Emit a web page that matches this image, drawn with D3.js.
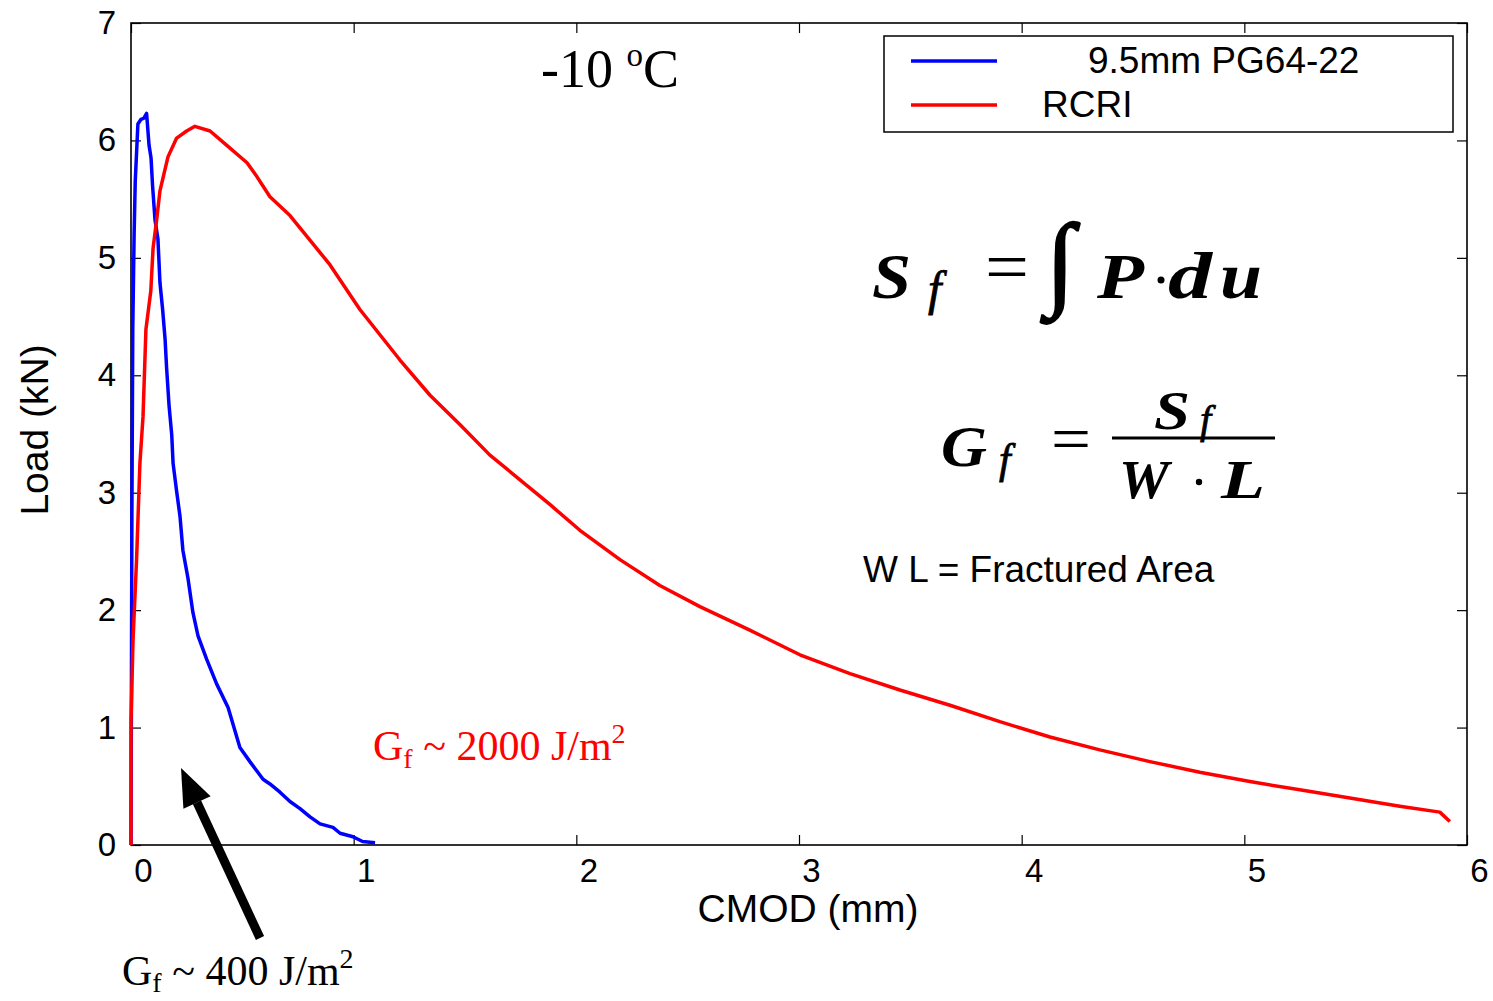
<!DOCTYPE html>
<html>
<head>
<meta charset="utf-8">
<script src="https://cdn.jsdelivr.net/npm/d3@7"></script>
<style>
  html, body { margin: 0; padding: 0; background: #fff; }
  svg { display: block; }
  .sans { font-family: "Liberation Sans", Arial, sans-serif; }
  .serif { font-family: "Liberation Serif", "Times New Roman", serif; }
</style>
</head>
<body>
<script>
// ---- data ----
const xTickValues = [0, 1, 2, 3, 4, 5, 6];
const yTickValues = [0, 1, 2, 3, 4, 5, 6, 7];
const seriesNames = ["9.5mm PG64-22", "RCRI"];
const seriesColors = ["#0000ff", "#ff0000"];

// 9.5mm PG64-22 (blue): CMOD (mm), Load (kN)
const blueCMOD = [0.000, 0.002, 0.004, 0.008, 0.014, 0.019, 0.031, 0.045, 0.058, 0.070, 0.081, 0.090, 0.097, 0.108, 0.121, 0.130, 0.142, 0.153, 0.160, 0.171, 0.183, 0.189, 0.205, 0.220, 0.233, 0.256, 0.278, 0.301, 0.340, 0.385, 0.436, 0.489, 0.534, 0.593, 0.624, 0.669, 0.714, 0.759, 0.804, 0.849, 0.907, 0.939, 0.997, 1.040, 1.096];
const blueLoad = [0.00, 1.40, 2.80, 4.40, 5.20, 5.65, 6.14, 6.18, 6.19, 6.23, 5.96, 5.85, 5.61, 5.32, 5.16, 4.79, 4.56, 4.31, 4.06, 3.74, 3.49, 3.25, 3.01, 2.80, 2.51, 2.27, 1.98, 1.78, 1.58, 1.37, 1.17, 0.83, 0.71, 0.56, 0.52, 0.45, 0.37, 0.31, 0.24, 0.18, 0.15, 0.10, 0.07, 0.03, 0.02];

// RCRI (red)
const redCMOD = [0.000, 0.000, 0.009, 0.025, 0.040, 0.054, 0.067, 0.089, 0.099, 0.115, 0.130, 0.166, 0.205, 0.250, 0.287, 0.355, 0.429, 0.521, 0.566, 0.624, 0.714, 0.894, 1.028, 1.208, 1.343, 1.477, 1.612, 1.747, 1.881, 2.016, 2.196, 2.375, 2.555, 2.779, 3.004, 3.229, 3.453, 3.678, 3.902, 4.127, 4.351, 4.576, 4.800, 5.025, 5.249, 5.474, 5.698, 5.878, 5.923];
const redLoad = [0.00, 1.05, 1.74, 2.43, 3.25, 3.65, 4.39, 4.72, 5.08, 5.32, 5.57, 5.86, 6.02, 6.08, 6.12, 6.08, 5.96, 5.81, 5.69, 5.52, 5.36, 4.94, 4.56, 4.13, 3.83, 3.58, 3.32, 3.11, 2.90, 2.68, 2.43, 2.21, 2.03, 1.83, 1.62, 1.46, 1.32, 1.19, 1.05, 0.92, 0.81, 0.71, 0.62, 0.54, 0.47, 0.40, 0.33, 0.28, 0.20];

// ---- layout ----
const W = 1493, H = 1001;
const plot = { left: 131, right: 1467, top: 23, bottom: 845 };

const svg = d3.select("body").append("svg").attr("width", W).attr("height", H);

const x = d3.scaleLinear().domain([0, 6]).range([plot.left, plot.right]);
const y = d3.scaleLinear().domain([0, 7]).range([plot.bottom, plot.top]);

// axes
const tickFont = "33px";
const gB = svg.append("g").attr("transform", `translate(0,${plot.bottom})`)
  .call(d3.axisBottom(x).tickValues(xTickValues).tickFormat(d3.format("d")).tickSizeInner(-10).tickSizeOuter(0).tickPadding(14));
gB.selectAll("text").attr("class", "sans").style("font-size", tickFont).attr("fill", "#000").attr("dx", 12);
const gL = svg.append("g").attr("transform", `translate(${plot.left},0)`)
  .call(d3.axisLeft(y).tickValues(yTickValues).tickFormat(d3.format("d")).tickSizeInner(-10).tickSizeOuter(0).tickPadding(15));
gL.selectAll("text").attr("class", "sans").style("font-size", tickFont).attr("fill", "#000");
const gT = svg.append("g").attr("transform", `translate(0,${plot.top})`)
  .call(d3.axisTop(x).tickValues(xTickValues).tickFormat("").tickSizeInner(-10).tickSizeOuter(0));
const gR = svg.append("g").attr("transform", `translate(${plot.right},0)`)
  .call(d3.axisRight(y).tickValues(yTickValues).tickFormat("").tickSizeInner(-10).tickSizeOuter(0));
svg.selectAll(".domain").remove();
svg.selectAll(".tick line").attr("stroke", "#000").attr("stroke-width", 1.2);
svg.append("rect").attr("x", plot.left).attr("y", plot.top)
  .attr("width", plot.right - plot.left).attr("height", plot.bottom - plot.top)
  .attr("fill", "none").attr("stroke", "#000").attr("stroke-width", 1.6);

// axis titles
svg.append("text").attr("class", "sans").attr("x", 808).attr("y", 922)
  .attr("text-anchor", "middle").style("font-size", "39px").text("CMOD (mm)");
svg.append("text").attr("class", "sans")
  .attr("transform", "translate(48,430) rotate(-90)")
  .attr("text-anchor", "middle").style("font-size", "39px").text("Load (kN)");

// curves
const line = d3.line().x(d => x(d[0])).y(d => y(d[1]));
const blueData = blueCMOD.map((v, i) => [v, blueLoad[i]]);
const redData = redCMOD.map((v, i) => [v, redLoad[i]]);
svg.append("path").datum(blueData).attr("d", line).attr("fill", "none")
  .attr("stroke", seriesColors[0]).attr("stroke-width", 3.5).attr("stroke-linejoin", "round");
svg.append("path").datum(redData).attr("d", line).attr("fill", "none")
  .attr("stroke", seriesColors[1]).attr("stroke-width", 3.5).attr("stroke-linejoin", "round");

// legend
const lg = svg.append("g");
lg.append("rect").attr("x", 884).attr("y", 36).attr("width", 569).attr("height", 96)
  .attr("fill", "#fff").attr("stroke", "#000").attr("stroke-width", 1.5);
lg.append("line").attr("x1", 911).attr("x2", 997).attr("y1", 61).attr("y2", 61)
  .attr("stroke", seriesColors[0]).attr("stroke-width", 3.5);
lg.append("line").attr("x1", 911).attr("x2", 997).attr("y1", 105).attr("y2", 105)
  .attr("stroke", seriesColors[1]).attr("stroke-width", 3.5);
lg.append("text").attr("class", "sans").attr("x", 1088).attr("y", 73).style("font-size", "37px").text(seriesNames[0]);
lg.append("text").attr("class", "sans").attr("x", 1042).attr("y", 117).style("font-size", "37px").text(seriesNames[1]);

// temperature title
const tt = svg.append("text").attr("class", "serif").attr("x", 541).attr("y", 87).style("font-size", "54px");
tt.append("tspan").text("-10 ");
tt.append("tspan").attr("dy", -21).style("font-size", "33px").text("o");
tt.append("tspan").attr("dy", 21).text("C");

// formulas
const bi = (txt, xx, yy, size, len) => {
  const t = svg.append("text").attr("class", "serif")
    .attr("x", xx).attr("y", yy).style("font-size", size + "px")
    .style("font-weight", "bold").style("font-style", "italic").text(txt);
  if (len) t.attr("textLength", len).attr("lengthAdjust", "spacingAndGlyphs");
  return t;
};
const it = (txt, xx, yy, size) => svg.append("text").attr("class", "serif")
  .attr("x", xx).attr("y", yy).style("font-size", size + "px")
  .style("font-style", "italic").attr("stroke", "#000").attr("stroke-width", 0.8).text(txt);
const rg = (txt, xx, yy, size) => svg.append("text").attr("class", "serif")
  .attr("x", xx).attr("y", yy).style("font-size", size + "px").text(txt);

bi("S", 872, 298, 64, 39);
it("f", 928, 305, 48);
rg("=", 985, 291, 72).attr("textLength", 44).attr("lengthAdjust", "spacingAndGlyphs");
rg("\u222B", 1046, 296, 104).attr("stroke", "#000").attr("stroke-width", 2);
bi("P", 1097, 298, 64, 47);
svg.append("circle").attr("cx", 1161).attr("cy", 280).attr("r", 3.5).attr("fill", "#000");
bi("d", 1168, 298, 66, 44);
bi("u", 1220, 298, 66, 42);

bi("G", 941, 466, 56, 46);
it("f", 999, 473, 42);
rg("=", 1051, 460, 64).attr("textLength", 40).attr("lengthAdjust", "spacingAndGlyphs");
bi("S", 1154, 429, 54, 36);
it("f", 1200, 433, 40);
svg.append("line").attr("x1", 1112).attr("x2", 1275).attr("y1", 438).attr("y2", 438)
  .attr("stroke", "#000").attr("stroke-width", 3);
bi("W", 1119, 498, 54, 50);
svg.append("circle").attr("cx", 1199).attr("cy", 482).attr("r", 3.2).attr("fill", "#000");
bi("L", 1221, 498, 54, 44);

svg.append("text").attr("class", "sans").attr("x", 863).attr("y", 582)
  .style("font-size", "37px").text("W L = Fractured Area");

// Gf annotations
const g1 = svg.append("text").attr("class", "serif").attr("x", 373).attr("y", 760)
  .style("font-size", "42px").attr("fill", "#ff0000");
g1.append("tspan").text("G");
g1.append("tspan").attr("dy", 8).style("font-size", "28px").text("f");
g1.append("tspan").attr("dy", -8).text(" ~ 2000 J/m");
g1.append("tspan").attr("dy", -17).style("font-size", "28px").text("2");

const g2 = svg.append("text").attr("class", "serif").attr("x", 122).attr("y", 985)
  .style("font-size", "42px").attr("fill", "#000");
g2.append("tspan").text("G");
g2.append("tspan").attr("dy", 7).style("font-size", "28px").text("f");
g2.append("tspan").attr("dy", -7).text(" ~ 400 J/m");
g2.append("tspan").attr("dy", -17).style("font-size", "28px").text("2");

// arrow
const tail = [260, 938], tip = [181, 768];
const ang = Math.atan2(tip[1] - tail[1], tip[0] - tail[0]);
const headLen = 38, headHalf = 15;
const base = [tip[0] - headLen * Math.cos(ang), tip[1] - headLen * Math.sin(ang)];
svg.append("line").attr("x1", tail[0]).attr("y1", tail[1]).attr("x2", base[0]).attr("y2", base[1])
  .attr("stroke", "#000").attr("stroke-width", 9);
svg.append("path").attr("d", d3.line()([
  tip,
  [base[0] + headHalf * Math.sin(ang), base[1] - headHalf * Math.cos(ang)],
  [base[0] - headHalf * Math.sin(ang), base[1] + headHalf * Math.cos(ang)]
]) + "Z").attr("fill", "#000");
</script>
</body>
</html>
